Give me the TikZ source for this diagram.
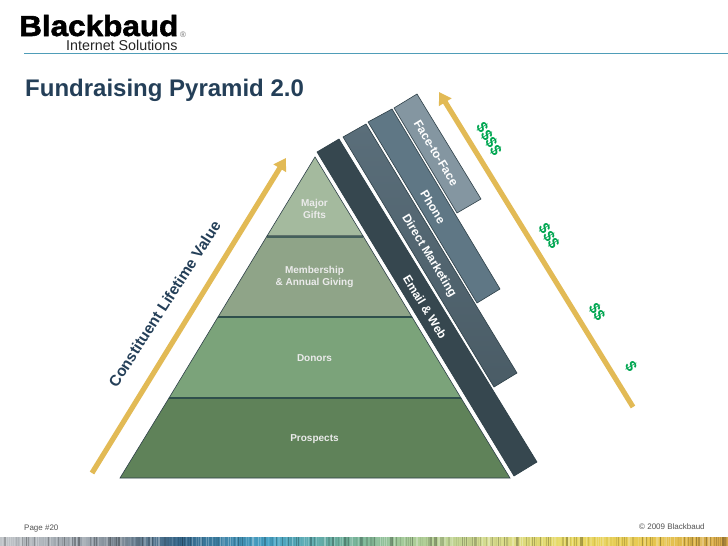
\documentclass[tikz,border=0pt]{standalone}
\usepackage{fontspec}
\setmainfont{Liberation Sans}
\newfontfamily\heavyfont[UprightFont={* Bold},FakeBold=2,FakeStretch=1.085]{Liberation Sans}
\usetikzlibrary{arrows.meta}
\definecolor{navy}{HTML}{243F58}
\definecolor{gold}{HTML}{E2BA55}
\definecolor{edgeline}{HTML}{2E4048}
\definecolor{sep}{HTML}{2F4F4C}
\definecolor{dollar}{HTML}{00A651}
\definecolor{rulecol}{HTML}{4F9DB8}
\definecolor{tierA}{HTML}{A4BA9E}
\definecolor{tierB}{HTML}{8FA488}
\definecolor{tierC}{HTML}{7BA37A}
\definecolor{tierD}{HTML}{5F8259}
\definecolor{sepA}{HTML}{44605C}
\definecolor{bandA}{HTML}{36474F}
\definecolor{bandBt}{HTML}{5A6E7A}
\definecolor{bandBb}{HTML}{4A5C66}
\definecolor{bandC}{HTML}{5F7785}
\definecolor{bandD}{HTML}{8496A1}
\tikzset{
  x=1pt,y=-1pt,
  tier/.style={draw=edgeline,line width=0.6pt},
  tiersep/.style={draw=sep,line width=1.5pt},
  band/.style={draw=edgeline,line width=0.6pt},
  tierlabel/.style={text=white!92!black,font=\bfseries\fontsize{10}{12}\selectfont,align=center,inner sep=0pt},
  bandlabel/.style={text=white,font=\bfseries\fontsize{12}{14}\selectfont,rotate=-58.7,inner sep=0pt},
  cash/.style={text=dollar,font=\bfseries\fontsize{15.5}{16}\selectfont,rotate=-58.7,inner sep=0pt},
  goldarrow/.style={draw=gold,line width=5.2pt,-{Triangle[length=12pt,width=14pt]}},
  footertext/.style={text=black!68,font=\fontsize{8}{10}\selectfont,anchor=base west,inner sep=0pt}
}
\begin{document}
\begin{tikzpicture}
\useasboundingbox (0,0) rectangle (728,546);
\fill[white] (0,0) rectangle (728,546);
% footer strip
\def\stops{0/C0C4C8/70/A0A8B0,70/A0A8B0/120/7F8C98,120/7F8C98/180/35668A,180/35668A/270/49A5C8,270/49A5C8/345/6FB09A,345/6FB09A/410/A9CC98,410/A9CC98/490/D8DD90,490/D8DD90/570/E8D860,570/E8D860/650/E8C850,650/E8C850/728/D9A94A}
\foreach \a/\ca/\b/\cb in \stops {
  \definecolor{ca}{HTML}{\ca}\definecolor{cb}{HTML}{\cb}
  \shade[left color=ca,right color=cb] (\a,537) rectangle (\b,546);
}
\pgfmathsetseed{20}
\foreach \i in {0,2,...,726} {
  \pgfmathsetmacro{\w}{0.6+rnd*1.4}
  \pgfmathsetmacro{\o}{rnd*0.3}
  \pgfmathparse{rnd>0.5?"white":"black"}
  \edef\c{\pgfmathresult}
  \fill[\c,opacity=\o] (\i,537) rectangle ++(\w,9);
}
% header
\node[anchor=base west,inner sep=0pt,font=\heavyfont\fontsize{29}{32}\selectfont] (logo) at (19,36) {Blackbaud};
\node[anchor=base west,inner sep=0pt,text=black!55,font=\fontsize{8}{9}\selectfont] (reg) at (180,37) {®};
\node[anchor=base west,inner sep=0pt,font=\fontsize{14.3}{16}\selectfont,text=black!85] (sub) at (66,50.7) {Internet Solutions};
\draw[draw=rulecol,line width=1pt] (24,53.5) -- (728,53.5);
\node[anchor=base west,inner sep=0pt,text=navy,font=\bfseries\fontsize{24}{26}\selectfont] (title) at (25,96.5) {Fundraising Pyramid 2.0};
% pyramid
\filldraw[tier,fill=tierA] (315,157) -- (363,236) -- (267,236) -- cycle;
\filldraw[tier,fill=tierB] (267,236) -- (363,236) -- (412,317) -- (218,317) -- cycle;
\filldraw[tier,fill=tierC] (218,317) -- (412,317) -- (461,398) -- (169,398) -- cycle;
\filldraw[tier,fill=tierD] (169,398) -- (461,398) -- (510,478) -- (120,478) -- cycle;
\draw[draw=sepA,line width=2pt] (267,236.5) -- (363,236.5);
\draw[tiersep] (218,317) -- (412,317);
\draw[tiersep] (169,398) -- (461,398);
\node[tierlabel] (major) at (314.5,208.5) {Major\\Gifts};
\node[tierlabel] (member) at (314.5,277) {Membership\\\& Annual Giving};
\node[tierlabel] (donors) at (314.5,358) {Donors};
\node[tierlabel] (prospects) at (314.5,439) {Prospects};
% bands
\filldraw[band,fill=bandA] (317,152) -- (339,139) -- (537,462) -- (514,476) -- cycle;
\shadedraw[band,top color=bandBt,bottom color=bandBb] (343,137) -- (366,124) -- (517,373) -- (494,387) -- cycle;
\filldraw[band,fill=bandC] (368,122) -- (392,109) -- (500,289) -- (477,303) -- cycle;
\filldraw[band,fill=bandD] (394,108) -- (417,94) -- (481,199) -- (457,213) -- cycle;
\node[bandlabel] (face) at (436,153) {Face-to-Face};
\node[bandlabel] (phone) at (433,207) {Phone};
\node[bandlabel] (direct) at (429,256) {Direct Marketing};
\node[bandlabel] (email) at (425,307) {Email \& Web};
% arrows
\coordinate (ls) at (92,473);
\coordinate (lt) at (286,158);
\coordinate (rs) at (633,407);
\coordinate (rt) at (439,92);
\draw[goldarrow] (ls) -- (lt);
\draw[goldarrow] (rs) -- (rt);
\node[text=navy,font=\bfseries\fontsize{15.4}{17}\selectfont,rotate=57.2,inner sep=0pt] (clv) at (164.5,304) {Constituent Lifetime Value};
\node[cash] (d4) at (489,139) {\$\$\$\$};
\node[cash] (d3) at (549,236) {\$\$\$};
\node[cash] (d2) at (597,312) {\$\$};
\node[cash] (d1) at (631,366) {\$};
% footer text
\node[footertext] (page) at (24,530) {Page \#20};
\node[footertext] (copy) at (639,529) {© 2009 Blackbaud};
\end{tikzpicture}
\end{document}
